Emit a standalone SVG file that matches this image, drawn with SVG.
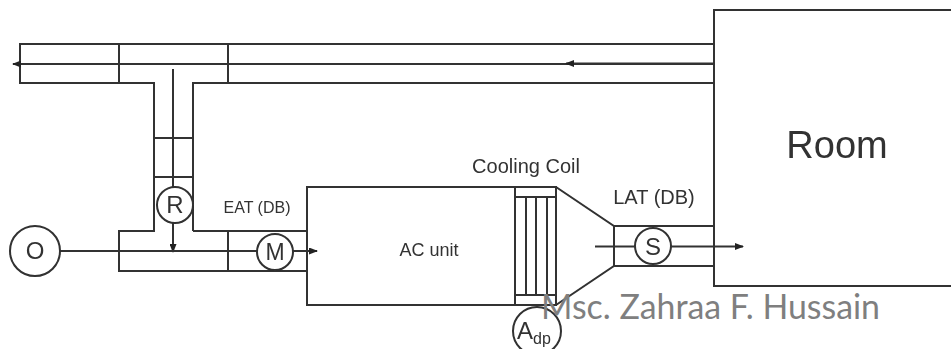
<svg xmlns="http://www.w3.org/2000/svg" width="951" height="349" viewBox="0 0 951 349">
<style>
.l{fill:none;stroke:#303030;stroke-width:2}
.c{fill:#fff;stroke:#303030;stroke-width:2}
text{font-family:"Liberation Sans",Arial,sans-serif;fill:#333}
.m{text-anchor:middle}
.w{font-family:Lato,"Open Sans",sans-serif;fill:#7f7f7f;font-size:34px}
</style>
<defs>
<marker id="a" markerUnits="userSpaceOnUse" markerWidth="9" markerHeight="7" refX="8" refY="3.500" orient="auto"><path d="M0 0L9 3.500L0 7z" fill="#222"/></marker>
<filter id="b" x="-5%" y="-5%" width="110%" height="110%"><feGaussianBlur stdDeviation="0.45"/></filter>
</defs>
<rect width="951" height="349" fill="#fff"/>
<g filter="url(#b)">
<g id="connectors">
<path class="l" d="M714 44H20V83H154V231H119V271H307M193 231V83H714M193 231H307M119 44V83M228 44V83M154 138H193M154 177H193M119 231V271M228 231V271"/>
<path class="l" d="M714 64H13" marker-end="url(#a)"/>
<path class="l" d="M714 63.500H566" marker-end="url(#a)"/>
<path class="l" d="M173 69V252" marker-end="url(#a)"/>
<path class="l" d="M60 251H317" marker-end="url(#a)"/>
<path class="l" d="M595 246.500H743" marker-end="url(#a)"/>
<path class="l" d="M556 187L614 226H714M556 305L614 266H714M614 226V266"/>
</g>
<g id="room"><path class="l" d="M951 10H714V286H951"/><text x="837" y="158" font-size="38" class="m">Room</text></g>
<g id="ac-unit"><path class="l" d="M515 187H307V305H515"/><text x="429" y="256" font-size="18" class="m">AC unit</text></g>
<g id="coil"><rect class="l" x="515" y="187" width="41" height="118"/><path class="l" d="M515 197H556M515 295H556M526 197V295M536 197V295M547 197V295"/><text x="526" y="173" font-size="20" class="m">Cooling Coil</text></g>
<g id="o"><circle class="c" cx="35" cy="251" r="25"/><text x="35" y="259" font-size="24" class="m">O</text></g>
<g id="r"><circle class="c" cx="175" cy="205" r="18"/><text x="175" y="213" font-size="24" class="m">R</text></g>
<g id="m"><circle class="c" cx="275" cy="252" r="18"/><text x="275" y="260" font-size="23" class="m">M</text></g>
<g id="s"><circle class="c" cx="653" cy="246" r="18"/><text x="653" y="255" font-size="24" class="m">S</text></g>
<g id="adp"><circle class="c" cx="537" cy="331" r="24"/><text x="517" y="339" font-size="24">A<tspan font-size="16" dy="5">dp</tspan></text></g>
<text x="257" y="213" font-size="16" class="m">EAT (DB)</text>
<text x="654" y="204" font-size="20" class="m">LAT (DB)</text>
</g>
<text class="w" x="541" y="319" textLength="339" lengthAdjust="spacingAndGlyphs">Msc. Zahraa F. Hussain</text>
</svg>
